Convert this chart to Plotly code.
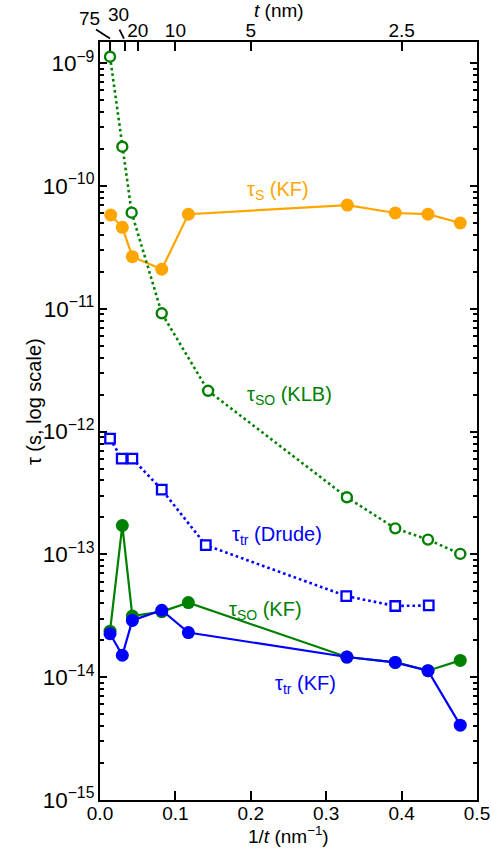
import plotly.graph_objects as go

# ---------------- data ----------------
# tau_SO (KLB) - open green circles, dotted
x_so_klb = [0.0133, 0.0296, 0.042, 0.0819, 0.1434, 0.3274, 0.3916, 0.435, 0.4778]
tau_so_klb = [1.13e-9, 2.09e-10, 6.07e-11, 9.2e-12, 2.15e-12, 2.92e-13, 1.63e-13, 1.32e-13, 1.01e-13]

# tau_S (KF) - filled orange circles
x_s_kf = [0.0142, 0.0296, 0.0429, 0.0819, 0.1172, 0.328, 0.3916, 0.435, 0.4778]
tau_s_kf = [5.81e-11, 4.61e-11, 2.66e-11, 2.1e-11, 5.89e-11, 7.0e-11, 6.03e-11, 5.9e-11, 5.0e-11]

# tau_tr (Drude) - open blue squares, dotted
x_tr_drude = [0.0133, 0.0288, 0.0429, 0.0819, 0.1403, 0.3266, 0.3916, 0.436]
tau_tr_drude = [8.77e-13, 6.03e-13, 6.03e-13, 3.37e-13, 1.19e-13, 4.58e-14, 3.8e-14, 3.84e-14]

# KF series share thicknesses
x_kf = [0.0133, 0.0296, 0.0429, 0.0819, 0.1172, 0.3274, 0.3916, 0.435, 0.4778]
tau_so_kf = [2.37e-14, 1.72e-13, 3.15e-14, 3.42e-14, 4.05e-14, 1.46e-14, 1.32e-14, 1.13e-14, 1.37e-14]
tau_tr_kf = [2.26e-14, 1.51e-14, 2.90e-14, 3.51e-14, 2.31e-14, 1.46e-14, 1.32e-14, 1.13e-14, 4.07e-15]

# axes
x_ticks = [0.0, 0.1, 0.2, 0.3, 0.4, 0.5]
t_top_values = [75, 30, 20, 10, 5, 2.5]
t_top_labels = ["", "", "20", "10", "5", "2.5"]

ORANGE = "#FFA500"
GREEN = "#008000"
BLUE = "#0000FF"
FONT = "Liberation Sans, Arial, sans-serif"

fig = go.Figure()

fig.add_trace(go.Scatter(
    x=x_s_kf, y=tau_s_kf, mode="lines+markers",
    line=dict(color=ORANGE, width=2.2),
    marker=dict(color=ORANGE, size=13), showlegend=False))

fig.add_trace(go.Scatter(
    x=x_so_klb, y=tau_so_klb, mode="lines+markers",
    line=dict(color=GREEN, width=2.6, dash="2.6px,3px"),
    marker=dict(color="white", size=10, line=dict(color=GREEN, width=2.4)),
    showlegend=False))

fig.add_trace(go.Scatter(
    x=x_tr_drude, y=tau_tr_drude, mode="lines+markers",
    line=dict(color=BLUE, width=2.6, dash="2.6px,3px"),
    marker=dict(symbol="square", color="white", size=9.5, line=dict(color=BLUE, width=2.3)),
    showlegend=False))

fig.add_trace(go.Scatter(
    x=x_kf, y=tau_so_kf, mode="lines+markers",
    line=dict(color=GREEN, width=2.2),
    marker=dict(color=GREEN, size=13), showlegend=False))

fig.add_trace(go.Scatter(
    x=x_kf, y=tau_tr_kf, mode="lines+markers",
    line=dict(color=BLUE, width=2.2),
    marker=dict(color=BLUE, size=13), showlegend=False))

# invisible trace to activate the top axis
fig.add_trace(go.Scatter(
    x=[1.0 / t for t in t_top_values], y=[1e-12] * len(t_top_values),
    xaxis="x2", mode="markers", marker=dict(opacity=0), hoverinfo="skip", showlegend=False))

W, H = 491, 852
L, R, T, B = 100, 14.3, 41.7, 52
pw, ph = W - L - R, H - T - B

def px(xp):
    return (xp - L) / pw

def py(yp):
    return (H - B - yp) / ph

fig.update_layout(
    width=W, height=H,
    margin=dict(l=L, r=R, t=T, b=B, pad=0),
    paper_bgcolor="white", plot_bgcolor="white",
    font=dict(family=FONT, size=19, color="black"),
    xaxis=dict(
        range=[0, 0.5], tickvals=x_ticks, ticktext=[f"{v:.1f}" for v in x_ticks],
        ticks="inside", ticklen=9, tickwidth=2, tickcolor="black",
        showline=True, linewidth=2, linecolor="black", mirror=False,
        showgrid=False, zeroline=False, tickfont=dict(size=19), automargin=False,
        ticklabelstandoff=-5,
    ),
    xaxis2=dict(
        range=[0, 0.5], overlaying="x", side="top", anchor="y",
        tickvals=[1.0 / t for t in t_top_values], ticktext=t_top_labels,
        ticks="inside", ticklen=9, tickwidth=2, tickcolor="black",
        showline=True, linewidth=2, linecolor="black",
        showgrid=False, zeroline=False, tickfont=dict(size=19), automargin=False,
        ticklabelstandoff=-5,
    ),
    yaxis=dict(
        type="log", range=[-15, -8.827], dtick=1,
        exponentformat="power", showexponent="all",
        ticks="inside", ticklen=7, tickwidth=2, tickcolor="black",
        minor=dict(ticks="inside", ticklen=4, tickwidth=1.5, tickcolor="black", dtick="D1", showgrid=False),
        showline=True, linewidth=2, linecolor="black", mirror="ticks",
        showgrid=False, zeroline=False, tickfont=dict(size=18), automargin=False,
    ),
)

ann = []
# series labels
ann.append(dict(x=px(245), y=py(190), text="τ<sub>S</sub> (KF)", font=dict(color=ORANGE, size=20)))
ann.append(dict(x=px(245), y=py(395), text="τ<sub>SO</sub> (KLB)", font=dict(color=GREEN, size=20)))
ann.append(dict(x=px(230), y=py(535), text="τ<sub>tr</sub> (Drude)", font=dict(color=BLUE, size=20)))
ann.append(dict(x=px(227), y=py(610), text="τ<sub>SO</sub> (KF)", font=dict(color=GREEN, size=20)))
ann.append(dict(x=px(273), y=py(684), text="τ<sub>tr</sub> (KF)", font=dict(color=BLUE, size=20)))
for a in ann:
    a.update(xref="paper", yref="paper", xanchor="left", yanchor="middle", showarrow=False)

# top tick labels for 75 and 30, offset
ann.append(dict(x=px(90), y=py(18.5), text="75", xref="paper", yref="paper",
                xanchor="center", yanchor="middle", showarrow=False, font=dict(size=19)))
ann.append(dict(x=px(118.5), y=py(14), text="30", xref="paper", yref="paper",
                xanchor="center", yanchor="middle", showarrow=False, font=dict(size=19)))
# axis titles
ann.append(dict(x=px(288.4), y=py(835), text="1/<i>t</i> (nm<sup>−1</sup>)", xref="paper", yref="paper",
                xanchor="center", yanchor="middle", showarrow=False, font=dict(size=19)))
ann.append(dict(x=px(279), y=py(10), text="<i>t</i> (nm)", xref="paper", yref="paper",
                xanchor="center", yanchor="middle", showarrow=False, font=dict(size=19)))
ann.append(dict(x=px(34), y=py(401), text="τ (s, log scale)", xref="paper", yref="paper",
                xanchor="center", yanchor="middle", textangle=-90, showarrow=False, font=dict(size=20)))
fig.update_layout(annotations=ann)

fig.update_layout(shapes=[
    dict(type="line", xref="paper", yref="paper", x0=px(96), y0=py(29.3), x1=px(110), y1=py(38.3),
         line=dict(color="black", width=1.8)),
    dict(type="line", xref="paper", yref="paper", x0=px(119.5), y0=py(29.3), x1=px(124), y1=py(38.3),
         line=dict(color="black", width=1.8)),
])

fig.write_html(
    "out.html",
    config={"displayModeBar": False},
    post_script="document.body.style.margin='0px';document.body.style.padding='0px';"
                "document.documentElement.style.overflow='hidden';document.body.style.overflow='hidden';",
)
